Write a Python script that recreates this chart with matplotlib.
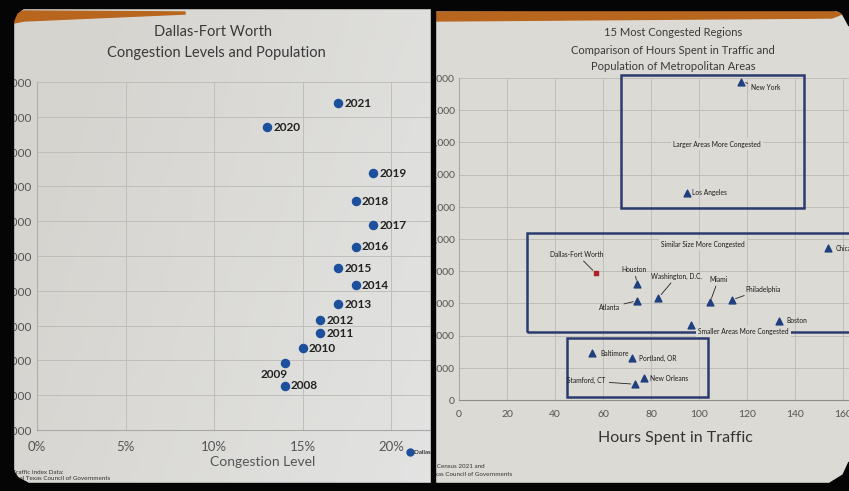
import matplotlib
matplotlib.use("Agg")
import numpy as np
import matplotlib.pyplot as plt
from matplotlib.patches import Rectangle, Polygon
from matplotlib.transforms import Bbox, TransformedBbox
from matplotlib.lines import Line2D
from matplotlib.colors import LinearSegmentedColormap

plt.rcParams["font.family"] = ["Lato", "DejaVu Sans"]

# ----- Dallas-Fort Worth: congestion level vs population -----
years = [2008, 2009, 2010, 2011, 2012, 2013, 2014, 2015, 2016, 2017, 2018, 2019, 2020, 2021]
congestion = [14, 14, 15, 16, 16, 17, 18, 17, 18, 19, 18, 19, 13, 17]  # percent
population = [6253000, 6385000, 6471000, 6557000, 6632000, 6724000, 6833000,
              6931000, 7052000, 7178000, 7316000, 7477000, 7741000, 7879000]

# ----- 15 most congested regions -----
regions = ["New York", "Los Angeles", "Chicago", "Houston", "Washington, D.C.",
           "Atlanta", "Miami", "Philadelphia", "Boston", "", "Baltimore",
           "Portland, OR", "New Orleans", "Stamford, CT"]
hours = [117.7, 94.9, 153.9, 74.3, 83.1, 74.3, 104.6, 113.6, 133.3, 96.7,
         55.6, 72.2, 77.2, 73.3]
metro_pop = [19770000, 12880000, 9420000, 7190000, 6350000, 6170000, 6070000,
             6210000, 4930000, 4640000, 2900000, 2590000, 1350000, 980000]
dfw_hours = 57.0
dfw_pop = 7870000

W, H = 849, 491


def fx(px):
    return px / W


def fy(py):
    return 1 - py / H


def clip_all(items, box):
    for t in items:
        t.set_clip_box(box)
        t.set_clip_on(True)


fig = plt.figure(figsize=(W / 100, H / 100), dpi=100, facecolor="black")

# paper sheets (left one gets lighter towards the lower right)
bg = fig.add_axes([fx(12), fy(485), fx(431) - fx(12), fy(6) - fy(485)], zorder=-5)
bg.axis("off")
gx, gy = np.meshgrid(np.linspace(0, 1, 60), np.linspace(0, 1, 40))
paper_cmap = LinearSegmentedColormap.from_list("paper", ["#d6d4cf", "#e3e4e3"])
bg.imshow(np.clip(0.8 * gx + 0.3 * gy - 0.15, 0, 1), cmap=paper_cmap, aspect="auto",
          origin="upper", extent=(0, 1, 0, 1), vmin=0, vmax=1)
fig.add_artist(Rectangle((fx(435), fy(485)), fx(849) - fx(435), fy(8) - fy(485),
                         transform=fig.transFigure, color="#dcdad4", zorder=-5))
left_box = TransformedBbox(Bbox([[fx(13), fy(483)], [fx(431), fy(7)]]), fig.transFigure)
right_box = TransformedBbox(Bbox([[fx(435), fy(483)], [fx(849), fy(9)]]), fig.transFigure)

grid_col = "#c0beb9"
ink = "#3a3a3a"

# ---------------- left chart ----------------
ax1 = fig.add_axes([fx(37), fy(430), fx(431) - fx(37), fy(82) - fy(430)])
ax1.set_facecolor("none")
ax1.scatter(congestion, population, s=34, color="#1c4f9c", zorder=3, clip_on=False)
for yr, c, p in zip(years, congestion, population):
    if yr == 2009:
        ax1.annotate(str(yr), (c, p), xytext=(-8, -8.5), textcoords="offset points",
                     ha="center", va="center", fontsize=8.5, fontweight="bold", color="#222")
    else:
        ax1.annotate(str(yr), (c, p), xytext=(4.5, 0), textcoords="offset points",
                     ha="left", va="center", fontsize=8.5, fontweight="bold", color="#222")
ax1.set_xlim(0, (431 - 37) / 17.7)
ax1.set_ylim(6000000, 8000000)
ax1.set_xticks([0, 5, 10, 15, 20])
ax1.set_xticklabels(["0%", "5%", "10%", "15%", "20%"])
ax1.set_yticks(range(6000000, 8000001, 200000))
ax1.set_yticklabels(["{:,}".format(v) for v in range(6000000, 8000001, 200000)])
ax1.tick_params(axis="x", length=0, pad=8, labelsize=9.5, labelcolor="#555")
ax1.tick_params(axis="y", length=0, pad=4, labelsize=8.5, labelcolor="#555")
ax1.grid(True, color=grid_col, lw=0.7)
ax1.set_axisbelow(True)
for s in ["top", "right"]:
    ax1.spines[s].set_visible(False)
ax1.spines["left"].set_color("#b0afab")
ax1.spines["bottom"].set_color("#a9a8a4")

leg = ax1.legend(handles=[Line2D([], [], marker="o", ls="", color="#1c4f9c", markersize=5)],
                 labels=["Dallas-Fort Worth"], loc="center left", frameon=False,
                 bbox_to_anchor=(fx(404), fy(452)), bbox_transform=fig.transFigure,
                 fontsize=4.5, handletextpad=0.1, borderpad=0, handlelength=1)

t1 = fig.text(fx(213), fy(32), "Dallas-Fort Worth", ha="center", va="center",
              fontsize=10.5, color=ink)
t2 = fig.text(fx(216), fy(53), "Congestion Levels and Population", ha="center",
              va="center", fontsize=10.5, color=ink)
t3 = fig.text(fx(263), fy(462), "Congestion Level", ha="center", va="center",
              fontsize=10, color="#555")
t4 = fig.text(fx(63), fy(472), "TomTom Traffic Index Data:", ha="right", va="center",
              fontsize=4.5, color="#333")
t5 = fig.text(fx(110), fy(479), "North Central Texas Council of Governments", ha="right",
              va="center", fontsize=4.5, color="#333")
clip_all(ax1.get_yticklabels() + ax1.get_xticklabels() + leg.get_texts()
         + [t1, t2, t3, t4, t5], left_box)

# ---------------- right chart ----------------
ax2 = fig.add_axes([fx(459), fy(400), fx(849) - fx(459), fy(78) - fy(400)])
ax2.set_facecolor("none")
ax2.set_xlim(0, (849 - 459) / 2.4)
ax2.set_ylim(0, 20000000)
ax2.set_xticks([0, 20, 40, 60, 80, 100, 120, 140, 160])
ax2.set_yticks(range(0, 20000001, 2000000))
ax2.set_yticklabels(["{:,}".format(v) for v in range(0, 20000001, 2000000)])
ax2.tick_params(axis="x", length=0, pad=7, labelsize=7.5, labelcolor="#555")
ax2.tick_params(axis="y", length=0, pad=3, labelsize=7.5, labelcolor="#555")
ax2.grid(True, color=grid_col, lw=0.7)
ax2.set_axisbelow(True)
for s in ["top", "right"]:
    ax2.spines[s].set_visible(False)
ax2.spines["left"].set_color("#a9a8a4")
ax2.spines["bottom"].set_color("#8f8e8a")

navy = "#2a3b6e"
box_specs = [(67.4, 11900000, 143.8, 20190000),
             (28.2, 4240000, 175.0, 10350000),
             (44.9, 200000, 103.6, 3830000)]
for x0, y0, x1, y1 in box_specs:
    ax2.add_patch(Rectangle((x0, y0), x1 - x0, y1 - y0, fill=False, ec=navy,
                            lw=1.8, zorder=2, clip_on=False))

ax2.scatter(hours, metro_pop, marker="^", s=24, color="#1f3f7f", zorder=4, clip_on=False)
ax2.scatter([dfw_hours], [dfw_pop], marker="s", s=10, color="#b0202a", zorder=4)

# label offsets in points and whether a leader line is drawn
label_pos = {
    "New York": (7, -4.5, "left", True),
    "Los Angeles": (3.6, 0, "left", False),
    "Chicago": (5, 0, "left", False),
    "Houston": (-2.4, 10.8, "center", True),
    "Washington, D.C.": (13.2, 15.6, "center", True),
    "Atlanta": (-19.7, -4.8, "center", True),
    "Miami": (6, 16.6, "center", True),
    "Philadelphia": (9.6, 7.9, "left", True),
    "Boston": (5.5, 0, "left", False),
    "Baltimore": (5.5, 0, "left", False),
    "Portland, OR": (5, 0, "left", False),
    "New Orleans": (4, 0, "left", False),
    "Stamford, CT": (-34.8, 2.4, "center", True),
}
texts2 = []
lead = dict(arrowstyle="-", color="#222", lw=0.6, shrinkA=0.5, shrinkB=3)
for name, h, p in zip(regions, hours, metro_pop):
    if not name:
        continue
    dx, dy, ha, arrow = label_pos[name]
    a = ax2.annotate(name, (h, p), xytext=(dx, dy), textcoords="offset points",
                     ha=ha, va="center", fontsize=4.8, color="#1a1a1a",
                     arrowprops=lead if arrow else None, zorder=5)
    texts2.append(a)
a = ax2.annotate("Dallas-Fort Worth", (dfw_hours, dfw_pop), xytext=(-13.7, 13.7),
                 textcoords="offset points", ha="center", va="center", fontsize=4.8,
                 color="#1a1a1a", arrowprops=lead, zorder=5)
texts2.append(a)

paper_r = "#dcdad4"
bx = dict(fc=paper_r, ec="none", pad=1.5)
texts2.append(ax2.text(107.4, 15900000, "Larger Areas More Congested", ha="center",
                       va="center", fontsize=4.8, color="#1a1a1a", bbox=bx, zorder=5))
texts2.append(ax2.text(101.8, 9670000, "Similar Size More Congested", ha="center",
                       va="center", fontsize=4.8, color="#1a1a1a", bbox=bx, zorder=5))
texts2.append(ax2.text(99.7, 4240000, "Smaller Areas More Congested", ha="left",
                       va="center", fontsize=4.8, color="#1a1a1a", bbox=bx, zorder=5))

r1 = fig.text(fx(673), fy(33), "15 Most Congested Regions", ha="center", va="center",
              fontsize=8, color=ink)
r2 = fig.text(fx(672.5), fy(50), "Comparison of Hours Spent in Traffic and", ha="center",
              va="center", fontsize=8, color=ink)
r3 = fig.text(fx(673.5), fy(67), "Population of Metropolitan Areas", ha="center",
              va="center", fontsize=8, color=ink)
r4 = fig.text(fx(675.5), fy(438), "Hours Spent in Traffic", ha="center", va="center",
              fontsize=11.5, color="#333")
r5 = fig.text(fx(485), fy(467), "Source: U.S. Census 2021 and", ha="right", va="center",
              fontsize=4.5, color="#333")
r6 = fig.text(fx(512), fy(475), "North Central Texas Council of Governments", ha="right",
              va="center", fontsize=4.5, color="#333")
clip_all(ax2.get_yticklabels() + ax2.get_xticklabels() + texts2
         + [r1, r2, r3, r4, r5, r6], right_box)

# ---------------- photo frame: orange strips and black border ----------------
def fig_poly(pts, color, z=20):
    fig.add_artist(Polygon([(fx(x), fy(y)) for x, y in pts], closed=True,
                           transform=fig.transFigure, color=color, zorder=z))


fig_poly([(14, 13), (24, 11), (185, 12), (185, 14), (24, 21), (14, 23)], "#b8661e")
fig_poly([(435, 12), (832, 11), (842, 14), (832, 18), (435, 21)], "#b8661e")

blk = "#050505"
fig_poly([(0, 0), (849, 0), (849, 8), (0, 8)], blk)
fig_poly([(0, 0), (13, 0), (13, 491), (0, 491)], blk)
fig_poly([(431, 0), (435, 0), (435, 491), (431, 491)], blk)
fig_poly([(0, 483), (849, 483), (849, 491), (0, 491)], blk)
fig_poly([(435, 8), (849, 8), (849, 10), (435, 10)], blk)
# rounded corners
fig_poly([(13, 8), (24, 8), (17, 13), (13, 22)], blk)
fig_poly([(13, 483), (13, 470), (18, 478), (28, 483)], blk)
fig_poly([(849, 8), (832, 8), (842, 13), (849, 26)], blk)
fig_poly([(849, 483), (849, 462), (843, 475), (830, 483)], blk)

fig.savefig("out.png", dpi=100, facecolor=fig.get_facecolor())
